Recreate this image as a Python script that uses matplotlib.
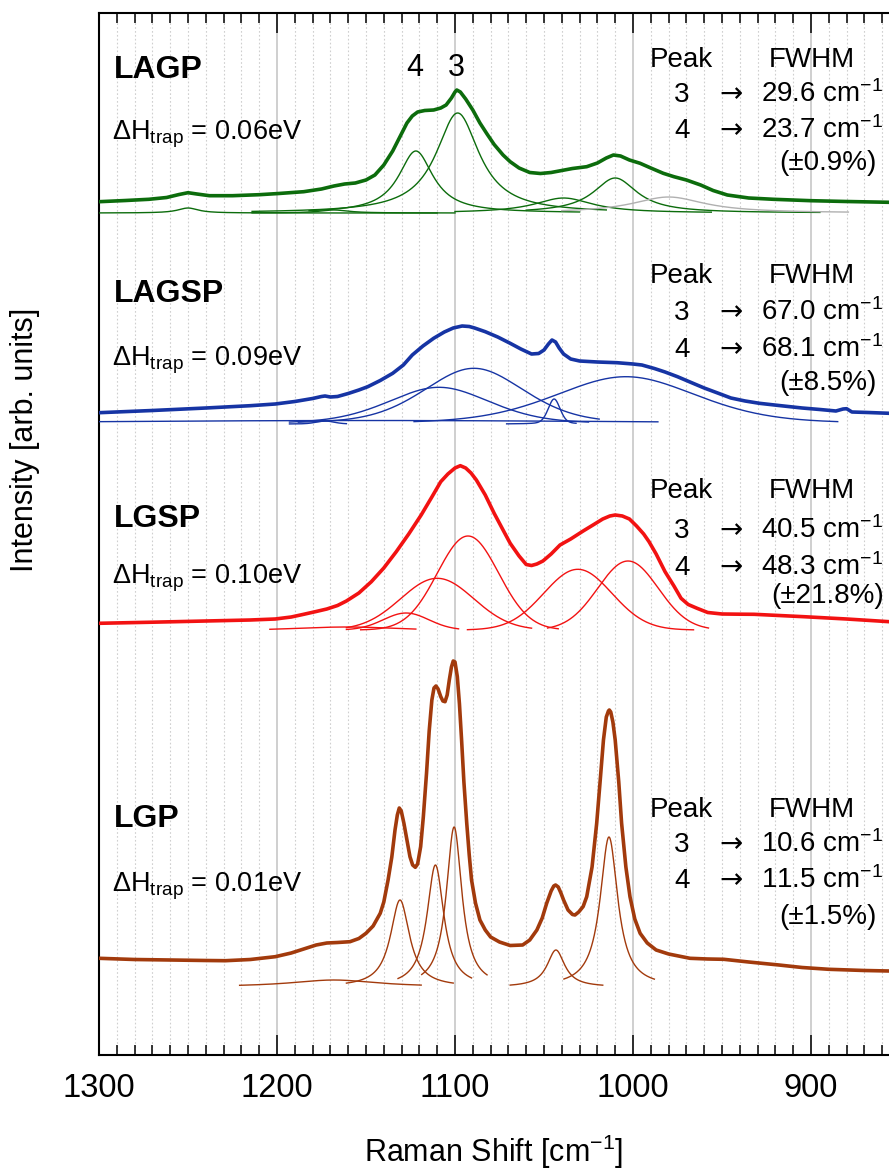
import matplotlib
matplotlib.use('Agg')
import matplotlib.pyplot as plt
import numpy as np
from matplotlib.ticker import MultipleLocator

plt.rcParams['font.family'] = ['Liberation Sans', 'DejaVu Sans']
plt.rcParams['mathtext.fontset'] = 'custom'
plt.rcParams['mathtext.rm'] = 'Liberation Sans'
plt.rcParams['mathtext.it'] = 'Liberation Sans:italic'
plt.rcParams['mathtext.bf'] = 'Liberation Sans:bold'

# ---- measured spectra (intensity above each sample's fit baseline, arb. units)
lagp_shift = [1300, 1285, 1272, 1262, 1255, 1250, 1245, 1238, 1225, 1210, 1199, 1185,
              1175, 1168, 1162, 1156, 1150, 1145, 1140, 1135, 1131, 1127, 1124, 1121,
              1117, 1112, 1108, 1105, 1102, 1100, 1099, 1097, 1094, 1090, 1086, 1082,
              1078, 1073, 1069, 1064, 1058, 1052, 1046, 1040, 1034, 1026, 1020, 1015,
              1011, 1007, 1002, 996, 990, 983, 977, 970, 962, 955, 947, 935, 921, 900,
              880, 856]
lagp_int = [11.3, 12.5, 13.7, 15.5, 18.5, 20.3, 19, 17.3, 17.3, 18.3, 19.5, 21.3,
            24, 27, 29, 30, 33, 38, 48, 62, 76, 90, 97, 101,
            102.5, 103, 105, 108, 115, 121, 123, 121, 114, 103, 90, 79,
            68.5, 58, 51.3, 45, 40.5, 39.5, 40.5, 42.5, 44.5, 46.3, 50, 55,
            58, 57, 53, 49.7, 45, 39.7, 36.3, 33, 28, 22.5, 18, 15, 13.7, 12.3,
            11.5, 10.7]

lagsp_shift = [1300, 1270, 1240, 1215, 1201, 1190, 1180, 1175, 1173, 1170, 1166, 1160,
               1154, 1149, 1142, 1135, 1129, 1124, 1118, 1112, 1106, 1101, 1096, 1092,
               1089, 1083, 1076, 1069, 1063, 1057, 1053, 1050, 1047.5, 1045.5, 1043.5,
               1041.5, 1039, 1035, 1030, 1020, 1009, 1000, 995, 988, 982, 975, 968, 960,
               952, 945, 937, 929, 918, 905, 895, 886, 882, 880, 877, 868, 856]
lagsp_int = [11.3, 13.5, 16, 18.3, 20, 22.5, 25.5, 27.5, 28, 27, 27.5, 30.5,
             34, 37.3, 43.5, 50.7, 59, 69, 78, 85.7, 92, 96, 98, 97.5,
             96, 92.3, 87, 80.7, 75, 70, 70.5, 74, 80, 84, 82,
             76, 70, 65, 63, 62, 61.3, 60, 59, 55.5, 52, 47.3, 42, 36,
             30.7, 26, 23, 20.7, 18.5, 16, 14.5, 13, 15, 15.3, 12, 11.5, 10.7]

lgsp_shift = [1300, 1270, 1240, 1215, 1201, 1192, 1185, 1178, 1172, 1166, 1161, 1154,
              1147, 1140, 1133, 1126, 1119, 1113, 1108, 1104, 1100, 1097, 1094, 1091,
              1088, 1083, 1078, 1073, 1069, 1064, 1060, 1057, 1054, 1050.6, 1046, 1041,
              1035, 1028, 1022, 1017, 1013, 1010, 1006, 1002, 998, 994, 991, 987, 982,
              977, 973, 969, 964, 958, 950, 940, 932, 918, 904, 880, 856]
lgsp_int = [6.7, 7.8, 9, 10, 11, 13, 15.7, 18.5, 21, 24.5, 29, 37,
            48.3, 62, 78.3, 96, 115, 133, 148.3, 156, 162, 164.3, 162, 157,
            150, 135, 116.7, 100, 86.7, 74, 65.5, 64.5, 66, 69, 76, 85,
            91, 99, 105.5, 111, 114, 115, 114, 111, 104, 96, 88.3, 76, 58.3,
            44, 31.7, 25.5, 21.7, 17.5, 16, 15.8, 15.7, 14.5, 13.3, 11, 8.3]

lgp_shift = [1300, 1280, 1260, 1240, 1229, 1215, 1201, 1192, 1185, 1178, 1172, 1166,
             1159, 1154, 1150, 1146, 1142, 1140, 1137.6, 1135.5, 1133.7, 1132.4, 1131.3,
             1130.2, 1128.7, 1127, 1125.3, 1123.8, 1122.3, 1121, 1119.3, 1117.8, 1116,
             1114.5, 1113, 1111.8, 1110.7, 1109.5, 1108, 1106.8, 1105.6, 1104.4, 1103.2,
             1102, 1101, 1100, 1098.7, 1097.5, 1096.3, 1095, 1093.4, 1092, 1090.7,
             1088.5, 1086, 1083, 1080, 1075, 1069, 1062, 1058, 1054, 1051, 1048.5, 1046,
             1044.5, 1043.5, 1042, 1040.5, 1039, 1036.5, 1034, 1032.6, 1030.5, 1028, 1026,
             1023, 1020.4, 1018.5, 1016.6, 1015, 1013.8, 1013.3, 1012.5, 1011.3, 1010,
             1008, 1006.4, 1004, 1001.7, 999, 996, 992, 987, 980, 968, 958, 949, 935,
             918, 905, 890, 870, 856]
lgp_int = [28.7, 27.5, 27, 26.5, 26.3, 27.5, 30.3, 34, 38, 42, 44, 44.5,
           45.3, 48.5, 53.7, 61, 73.7, 85, 107, 130, 157, 172, 179,
           176, 163.7, 147, 130.3, 122, 119.7, 123, 140.3, 170, 213.7,
           256, 287, 299, 301, 298, 290.3, 286, 285.3, 292, 307,
           320, 326, 325, 310.3, 283, 247, 205, 163.7, 132, 107,
           84, 67, 57, 50, 45, 41.5, 42, 47, 57, 69, 83.7, 96,
           101, 102, 100, 94, 87, 77, 72.5, 72, 75, 80.5, 90.3,
           120, 163.7, 205, 247, 270, 276, 277, 275, 265, 247,
           205, 163.7, 120, 90.3, 68, 53.7, 44, 37, 33, 28.7, 28, 27.7, 25,
           22, 19.5, 17.7, 16.5, 16]

# ---- fitted components: centre, FWHM, height, drawn from / to (cm-1)
lagp_center = [1250, 1168, 1122, 1098.5, 1039, 1010, 980]
lagp_fwhm = [14, 20, 23.7, 29.6, 40, 30, 50]
lagp_height = [5, 3, 62, 100, 15, 35, 16]
lagp_from = [1300, 1214, 1182, 1214, 1100, 1060, 1040]
lagp_to = [1110, 1100, 1030, 1015, 956, 895, 879]

lagsp_center = [1150, 1173, 1109, 1089.4, 1044.3, 1004]
lagsp_fwhm = [400, 12, 68.1, 67.0, 8, 95]
lagsp_height = [3.5, 3, 36.7, 55.7, 25, 47.3]
lagsp_from = [1300, 1193, 1193, 1188, 1071, 1123]
lagsp_to = [986, 1161, 1025, 1019, 1032, 885]

lgsp_center = [1161, 1127.5, 1110, 1092.7, 1031, 1002.8]
lgsp_fwhm = [60, 30, 48.3, 40.5, 45, 40]
lgsp_height = [3, 17, 51.7, 94, 60.7, 69]
lgsp_from = [1204, 1161, 1161, 1153, 1093, 1048]
lgsp_to = [1122, 1098, 1057, 1042, 966, 957.6]

lgp_center = [1168, 1130.9, 1111, 1100.5, 1043.3, 1013.5]
lgp_fwhm = [60, 13, 11.5, 10.6, 12, 12]
lgp_height = [7, 87, 122, 160, 37, 150]
lgp_from = [1221, 1161, 1132, 1118.7, 1069, 1038.8]
lgp_to = [1119, 1101, 1090.7, 1082, 1017, 988]

# Lorentzian fraction of the line shape used by each fit
lagp_eta, lagsp_eta, lgsp_eta, lgp_eta = 1.0, 0.3, 0.0, 1.0

names = ['LAGP', 'LAGSP', 'LGSP', 'LGP']
dh_trap = ['0.06', '0.09', '0.10', '0.01']
fwhm3 = ['29.6', '67.0', '40.5', '10.6']
fwhm4 = ['23.7', '68.1', '48.3', '11.5']
fwhm_err = ['±0.9%', '±8.5%', '±21.8%', '±1.5%']


def pvoigt(x, c, w, h, eta):
    u = (x - c) / w
    return h * (eta / (1 + 4 * u ** 2) + (1 - eta) * np.exp(-4 * np.log(2) * u ** 2))


fig = plt.figure(figsize=(8.89, 11.71), dpi=100)
ax = fig.add_axes([99 / 889, 116 / 1171, 790 / 889, 1042 / 1171])
ax.set_xlim(1300, 1300 - 790 / 1.78)
ax.set_ylim(0, 1042)

samples = [
    (lagp_shift, lagp_int, lagp_center, lagp_fwhm, lagp_height, lagp_from, lagp_to, lagp_eta),
    (lagsp_shift, lagsp_int, lagsp_center, lagsp_fwhm, lagsp_height, lagsp_from, lagsp_to, lagsp_eta),
    (lgsp_shift, lgsp_int, lgsp_center, lgsp_fwhm, lgsp_height, lgsp_from, lgsp_to, lgsp_eta),
    (lgp_shift, lgp_int, lgp_center, lgp_fwhm, lgp_height, lgp_from, lgp_to, lgp_eta),
]
offsets = [842, 631, 425, 68]
colors = ['#0c6c0c', '#1634a4', '#f21212', '#a23a0c']
grey_comp = {0: [6]}

for i, (sx, si, cc, cw, ch, c0, c1, eta) in enumerate(samples):
    off = offsets[i]
    for j in range(len(cc)):
        xs = np.linspace(c0[j], c1[j], 400)
        col = '#b0b0b0' if j in grey_comp.get(i, []) else colors[i]
        ax.plot(xs, off + pvoigt(xs, cc[j], cw[j], ch[j], eta), color=col, lw=1.0, zorder=3)
    ax.plot(sx, off + np.array(si), color=colors[i], lw=2.6, zorder=4,
            solid_joinstyle='round')

# grid & ticks
ax.xaxis.set_major_locator(MultipleLocator(100))
ax.xaxis.set_minor_locator(MultipleLocator(10))
ax.grid(which='major', axis='x', color='#cccccc', lw=1.3, zorder=0)
ax.grid(which='minor', axis='x', color='#cfcfcf', lw=0.8, ls=(0, (1.5, 2)), zorder=0)
ax.set_axisbelow(True)
ax.tick_params(axis='x', which='both', direction='in', top=True, bottom=True,
               labelsize=23.5, pad=13, width=1.1)
ax.tick_params(axis='x', which='major', length=14.5)
ax.tick_params(axis='x', which='minor', length=7.5)
ax.tick_params(axis='y', left=False, right=False, labelleft=False)
for s in ['top', 'bottom', 'left']:
    ax.spines[s].set_linewidth(1.5)
ax.spines['right'].set_visible(False)

fig.text(494 / 889, 1 - 1152 / 1171, 'Raman Shift [cm$^{-1}$]', fontsize=22,
         ha='center', va='center')
fig.text(25 / 889, 1 - 440 / 1171, 'Intensity [arb. units]', fontsize=22,
         rotation=90, ha='center', va='center')


def at(px, py):
    return 1300 - (px - 99) / 1.78, 1055 - py


# peak labels over LAGP
ax.text(*at(414.5, 76), '4', fontsize=22, ha='center', va='baseline')
ax.text(*at(456, 76), '3', fontsize=22, ha='center', va='baseline')

label_y = [78, 302, 527, 827]
dh_y = [140, 365, 583, 892]
head_y = [67, 283, 498, 817]
row3_y = [102, 320, 538, 852]
row4_y = [138, 357, 575, 888]
err_y = [170, 390, 603, 924]

for i in range(4):
    ax.text(*at(114, label_y[i]), names[i], fontsize=23, fontweight='bold', va='baseline')
    ax.text(*at(112, dh_y[i]), 'ΔH$_{\\mathrm{trap}}$ = ' + dh_trap[i] + 'eV',
            fontsize=19.5, va='baseline')
    ax.text(*at(650, head_y[i]), 'Peak', fontsize=20, va='baseline')
    ax.text(*at(769, head_y[i]), 'FWHM', fontsize=20, va='baseline')
    for yy, pk, val in [(row3_y[i], '3', fwhm3[i]), (row4_y[i], '4', fwhm4[i])]:
        ax.text(*at(674, yy), pk, fontsize=20, va='baseline')
        ax.text(*at(731, yy), '→', fontsize=20, family='DejaVu Sans',
                ha='center', va='baseline')
        ax.text(*at(761, yy), val + ' cm$^{-1}$', fontsize=20, va='baseline')
    ax.text(*at(828, err_y[i]), '(' + fwhm_err[i] + ')', fontsize=20,
            ha='center', va='baseline')

fig.savefig('out.png', dpi=100)
